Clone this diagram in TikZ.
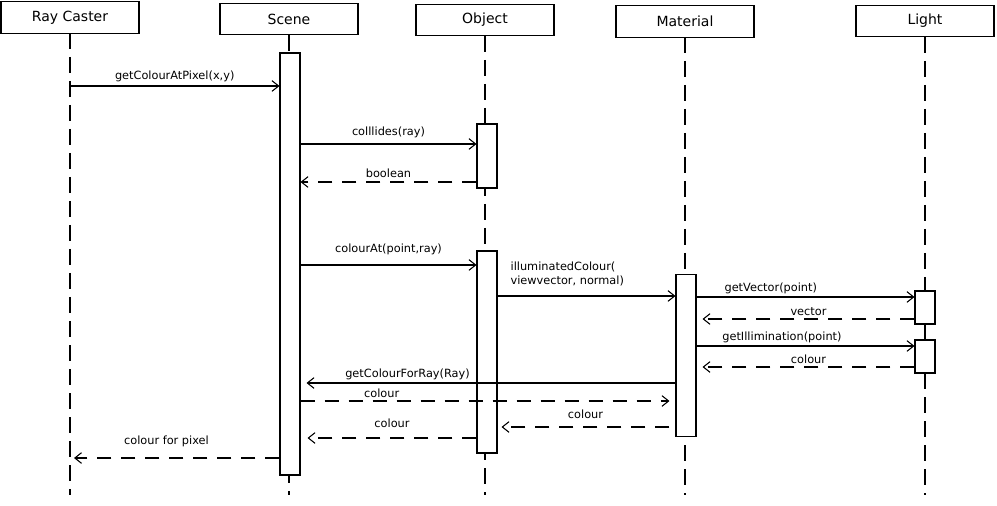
\documentclass[tikz,border=0pt]{standalone}
\usepackage{fontspec}
\setmainfont{DejaVu Sans}
\usetikzlibrary{arrows.meta,calc}
\begin{document}
\begin{tikzpicture}[x=0.75pt,y=-0.75pt,
  hdr/.style={draw,thick,minimum width=103.5pt,minimum height=23.5pt,inner sep=0pt,font=\fontsize{10.5}{12}\selectfont,fill=white},
  act/.style={draw,thick,fill=white,minimum width=15pt,inner sep=0pt},
  life/.style={thick,dash pattern=on 12pt off 6pt},
  msg/.style={thick,-{Straight Barb[length=5pt,width=8pt]}},
  ret/.style={msg,dash pattern=on 11pt off 7pt},
  lbl/.style={font=\fontsize{8.5}{10.5}\selectfont,inner sep=1pt}]
\useasboundingbox (0,0) rectangle (997,506);
% lifelines
\draw[life] (70,33) -- (70,495);
\draw[life] (289,35) -- (289,495);
\draw[life] (485,36) -- (485,495);
\draw[life] (685,37) -- (685,495);
\draw[life] (925,37) -- (925,495);
% headers
\node[hdr] (rc) at (70,17.5) {Ray Caster};
\node[hdr] (sc) at (289,19) {Scene};
\node[hdr] (ob) at (485,20) {Object};
\node[hdr] (ma) at (685,21.5) {Material};
\node[hdr] (li) at (925,21) {Light};
% activations
\node[act,minimum height=316.5pt] (sA) at (290,264) {};
\node[act,minimum height=48pt] (oA) at (487,156) {};
\node[act,minimum height=151.5pt] (oB) at (487,352) {};
\node[act,minimum height=122pt] (mA) at (686,355.5) {};
\node[act,minimum height=24.75pt] (lA) at (925,307.5) {};
\node[act,minimum height=24.75pt] (lB) at (925,356.5) {};
% coordinates
\coordinate (p1) at (70,86);
\coordinate (p2) at (74,458);
% messages
\draw[msg] (p1) -- (sA.west|-p1) node[lbl,midway,above=2pt] {getColourAtPixel(x,y)};
\draw[msg] (sA.east|-0,144) -- (oA.west|-0,144) node[lbl,midway,above=3pt] {colllides(ray)};
\draw[ret] (oA.west|-0,182) -- (sA.east|-0,182) node[lbl,midway,above=2pt] {boolean};
\draw[msg] (sA.east|-0,265) -- (oB.west|-0,265) node[lbl,midway,above=6pt] {colourAt(point,ray)};
\draw[msg] (oB.east|-0,296) -- (mA.west|-0,296);
\node[lbl,anchor=south west,align=left] (ic) at (509,288) {illuminatedColour(\\viewvector, normal)};
\draw[msg] (mA.east|-0,297) -- (lA.west|-0,297) node[lbl,pos=0.12,anchor=south west,yshift=1pt] {getVector(point)};
\draw[ret] (lA.west|-0,319) -- ($(mA.east|-0,319)+(6,0)$) node[lbl,midway,above=1pt] {vector};
\draw[msg] (mA.east|-0,346) -- (lB.west|-0,346) node[lbl,pos=0.11,anchor=south west,yshift=1pt] {getIllimination(point)};
\draw[ret] (lB.west|-0,367) -- ($(mA.east|-0,367)+(6,0)$) node[lbl,midway,above=1pt] {colour};
\draw[msg] (mA.west|-0,383) -- ($(sA.east|-0,383)+(6,0)$) node[lbl,pos=0.9,anchor=south west,yshift=1pt] {getColourForRay(Ray)};
\draw[ret] (sA.east|-0,401) -- ($(mA.west|-0,401)+(-6,0)$) node[lbl,pos=0.22,above=1pt] {colour};
\draw[ret] ($(mA.west|-0,427)+(-6,0)$) -- ($(oB.east|-0,427)+(4,0)$) node[lbl,midway,above=5pt] {colour};
\draw[ret] (oB.west|-0,438) -- ($(sA.east|-0,438)+(7,0)$) node[lbl,midway,above=6pt] {colour};
\draw[ret] (sA.west|-0,458) -- (p2) node[lbl,pos=0.55,above=7pt] {colour for pixel};
\end{tikzpicture}
\end{document}
